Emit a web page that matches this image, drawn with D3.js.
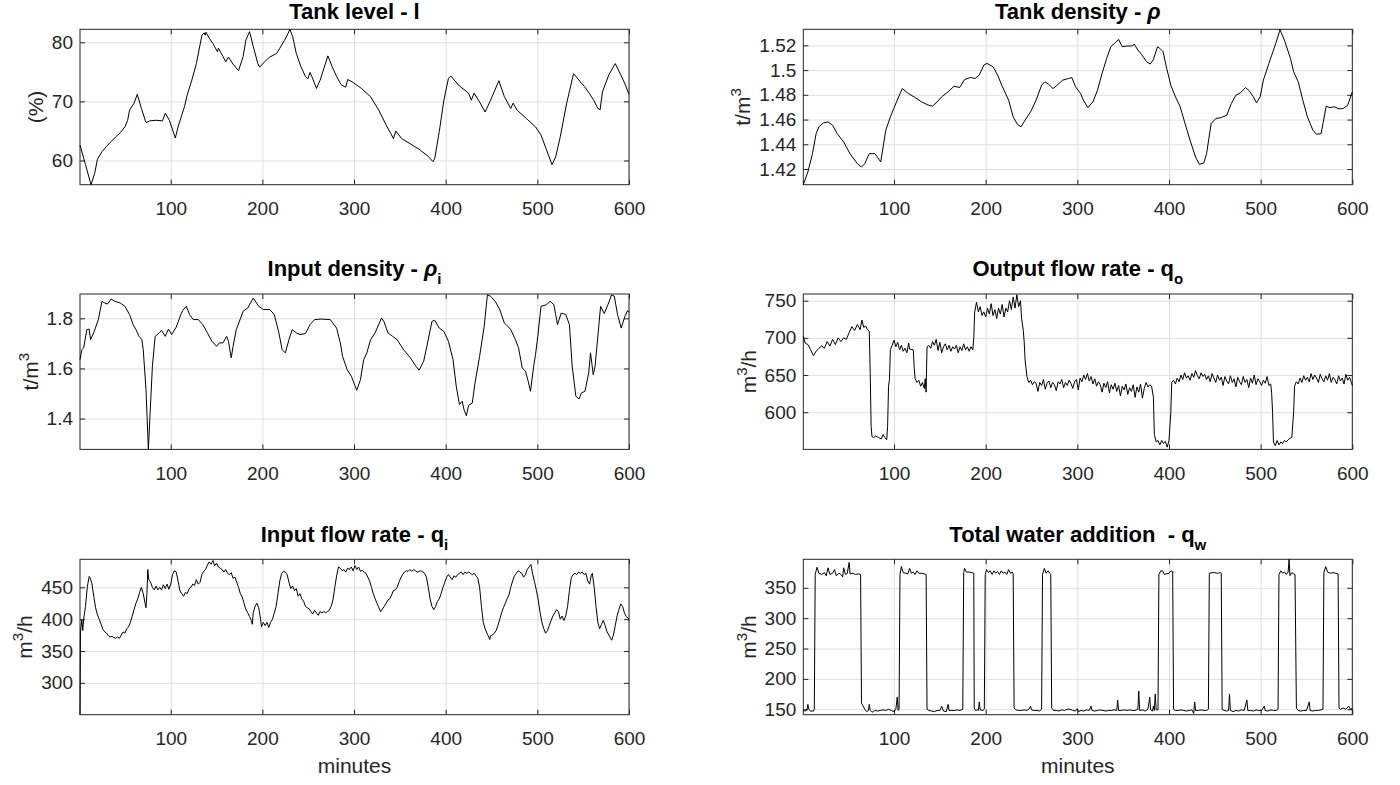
<!DOCTYPE html>
<html>
<head>
<meta charset="utf-8">
<script src="https://cdn.jsdelivr.net/npm/d3@7"></script>
<style>
  body { margin: 0; background: #fff; }
  text { font-family: "Liberation Sans", Arial, Helvetica, sans-serif; fill: #262626; }
</style>
</head>
<body>
<svg id="fig" width="1400" height="785"></svg>
<script>
// x axis ticks (minutes)
var minuteTicks = [100, 200, 300, 400, 500, 600];

// tank level l (%)
var tankLevel = [[1,62.6],[7,59.3],[13,55.9],[17,57.8],[20,60.2],[25,61.5],[30,62.4],[35,63.2],[40,64.0],[45,64.7],[50,65.7],[53,66.8],[55,68.5],[60,69.7],[63.5,71.2],[68,68.8],[73,66.4],[77,66.7],[84,66.8],[91,66.7],[94,68.0],[98.5,66.8],[105,63.8],[108,65.7],[115,69.1],[118,71.1],[123,73.6],[128,76.4],[134,81.2],[136.5,81.6],[137.5,81.2],[138.5,81.7],[142,80.7],[146,79.8],[151,78.4],[152,79.0],[157,77.6],[160,76.7],[163,77.5],[168,76.3],[174,75.2],[179,77.6],[182,80.4],[186,81.8],[190,79.3],[195,76.4],[197,75.8],[203,76.8],[208,77.5],[215.5,78.1],[219,79.0],[224,80.3],[228,81.5],[230,82.2],[233,81.0],[237,78.1],[242,75.9],[247,74.2],[249.5,73.8],[252,74.9],[254,74.2],[259,72.2],[263,73.6],[271.5,77.7],[276,75.9],[281,74.2],[286,72.8],[291,72.4],[293,73.7],[298,73.3],[308,72.2],[318,70.8],[327,68.5],[335,66.0],[340,64.6],[343,63.7],[345.5,65.0],[352,63.7],[361.5,62.8],[371,61.9],[381,60.7],[386,59.8],[388,60.3],[393,64.9],[398,70.2],[403,73.9],[405.5,74.3],[415,72.6],[425,71.4],[428,70.2],[431,71.4],[437,69.9],[443,68.2],[449,70.2],[458,73.5],[464,70.8],[471,68.8],[473.5,69.7],[478,68.5],[488,67.1],[498,65.7],[504,64.3],[510,61.8],[516,59.3],[520,60.6],[525,64.0],[532,69.7],[539.5,74.7],[547,73.3],[551.5,72.5],[556.5,71.4],[561.5,70.2],[566,68.8],[568.5,68.6],[571,71.6],[578,74.5],[585,76.4],[591,74.5],[596,72.8],[600,71.2]];

// tank density rho (t/m3)
var tankDensity = [[1,1.4073],[6,1.4176],[11,1.4324],[15,1.4486],[18,1.4541],[23,1.4573],[28,1.4581],[33,1.4554],[38,1.4486],[45,1.4419],[52,1.4324],[60,1.4243],[64.5,1.4216],[68,1.4243],[73,1.4324],[79,1.4324],[81.5,1.430],[85.5,1.4257],[91,1.4514],[96,1.4622],[103.5,1.4757],[109,1.4851],[115.5,1.4811],[123,1.4778],[130,1.4743],[137.5,1.4716],[142,1.4708],[147,1.4743],[152,1.4784],[159,1.4824],[165.5,1.487],[171.5,1.4859],[177,1.4924],[183.5,1.494],[188.5,1.4932],[193,1.496],[198,1.5041],[201.5,1.5054],[208,1.5027],[213,1.496],[217.5,1.4878],[225,1.4757],[230,1.4622],[234.5,1.4562],[238.5,1.4541],[243,1.4595],[249,1.4662],[255,1.4757],[261,1.4878],[264.5,1.4905],[268.5,1.4886],[273.5,1.4851],[278,1.4878],[284,1.4919],[290.5,1.4932],[294,1.494],[298,1.4865],[303.5,1.4811],[306.5,1.4757],[311.5,1.4697],[317,1.4743],[322,1.4838],[327,1.4973],[332,1.5095],[336.5,1.5189],[340.5,1.5216],[345,1.5249],[349,1.5189],[354,1.5195],[360,1.5195],[362,1.5211],[366,1.5162],[370.5,1.5122],[375.5,1.5068],[379.5,1.5049],[383,1.5086],[387.5,1.5189],[390,1.5176],[393.5,1.5149],[397.5,1.5014],[402,1.4878],[407,1.4784],[412,1.4708],[417,1.4581],[423,1.4432],[429,1.4297],[433,1.4238],[438,1.4249],[441,1.4324],[446,1.4568],[451,1.4608],[457,1.4616],[463,1.4635],[468,1.473],[473,1.4797],[478,1.4816],[483.5,1.4859],[487.5,1.4832],[492,1.4784],[495.5,1.4735],[499.5,1.4784],[503,1.4919],[509,1.5054],[516.5,1.5216],[520.5,1.5311],[521,1.533],[526.5,1.523],[532.5,1.5095],[536,1.4986],[541,1.4905],[546,1.4757],[551,1.4622],[557,1.4514],[561,1.4481],[566,1.4486],[568,1.4568],[571.5,1.4708],[575.5,1.4697],[580.5,1.4703],[585.5,1.4686],[590,1.4689],[595,1.4716],[600,1.4824]];

// input density rho_i (t/m3)
var inputDensity = [[1,1.635],[3,1.675],[5,1.682],[8.5,1.755],[11,1.757],[12.5,1.715],[16,1.742],[21,1.795],[25,1.868],[28,1.861],[31,1.857],[35,1.877],[39,1.868],[45,1.861],[50,1.848],[55,1.815],[59,1.775],[62,1.755],[65.5,1.728],[68.5,1.715],[70,1.675],[73,1.516],[75.6,1.277],[77.5,1.423],[80,1.609],[83,1.728],[87.5,1.742],[90,1.752],[94,1.728],[97.5,1.757],[101,1.735],[106,1.765],[111,1.815],[113,1.831],[117,1.848],[120.5,1.815],[124.5,1.795],[130,1.795],[135,1.775],[140,1.742],[145,1.708],[150,1.688],[153,1.702],[157,1.702],[161,1.728],[163,1.708],[166,1.642],[168,1.688],[171.5,1.755],[179,1.828],[184,1.841],[190,1.881],[196,1.848],[201,1.835],[208,1.835],[213,1.815],[218,1.742],[221.5,1.675],[225,1.662],[229,1.715],[232.5,1.755],[237,1.742],[241,1.735],[247,1.739],[252,1.775],[257,1.795],[264,1.797],[274,1.795],[281,1.761],[285,1.702],[287.5,1.648],[292.5,1.595],[297,1.569],[301,1.532],[303,1.513],[307,1.555],[310.5,1.635],[314,1.662],[318,1.715],[323,1.742],[330,1.801],[332.5,1.788],[337,1.742],[342,1.728],[347,1.715],[354,1.675],[361.5,1.642],[367.5,1.609],[371,1.593],[376,1.629],[381,1.715],[385,1.788],[388,1.792],[393,1.761],[398,1.748],[403,1.708],[408,1.635],[411.5,1.529],[415,1.456],[418,1.469],[420,1.436],[422.5,1.412],[425,1.452],[429,1.462],[432,1.542],[437,1.648],[442,1.768],[445.5,1.894],[449,1.888],[454,1.868],[459,1.835],[464,1.781],[466,1.775],[471,1.755],[476,1.715],[479.5,1.682],[483.5,1.602],[487,1.589],[490,1.549],[492.5,1.509],[496,1.609],[498,1.655],[500.5,1.728],[504,1.848],[510,1.854],[514,1.868],[518,1.854],[520,1.815],[522,1.775],[526,1.821],[531,1.815],[535,1.775],[538,1.609],[542,1.489],[545.5,1.478],[548,1.502],[552,1.509],[556,1.582],[558,1.662],[561,1.575],[563,1.609],[567,1.768],[569,1.848],[573,1.819],[577,1.854],[581,1.894],[584,1.888],[587.5,1.815],[591.5,1.761],[595.5,1.808],[598.5,1.831],[600,1.824]];

// output flow rate q_o (m3/h)
var outputFlow = [[1,702],[3,693],[6,691],[9,684],[12,676],[15,682],[18,686],[21,689],[24,686],[27,695],[30,689],[33,698],[36,691],[39,700],[42,695],[45,700],[48,698],[51,707],[54,715],[57,710],[60,718],[63,711],[65,724],[67,714],[69,716],[71,711],[73,709],[74,653],[75,581],[76,567],[78,566],[80,568],[83,566],[86,564],[88,570],[90,566],[92,563],[93,581],[94,635],[95,644],[96,684],[98,690],[100,697],[102,688],[104,694],[106,684],[108,690],[110,682],[112,686],[114,680],[116,693],[117,685],[121,684],[122,660],[123,645],[125,640],[127,643],[129,635],[131,640],[133,632],[134,645],[135,627],[136,688],[138,690],[140,686],[142,695],[144,690],[146,698],[148,683],[150,694],[152,680],[154,688],[156,692],[158,684],[160,690],[162,682],[164,688],[166,685],[168,690],[170,680],[172,688],[174,683],[176,692],[178,684],[180,688],[182,682],[184,688],[186,684],[187,700],[188,735],[190,748],[192,735],[194,742],[196,730],[198,735],[200,728],[202,740],[204,732],[206,746],[208,730],[210,738],[212,726],[214,740],[216,732],[218,745],[220,728],[222,740],[224,735],[226,750],[228,738],[230,755],[232,740],[234,758],[236,742],[238,750],[239,728],[241,710],[242,695],[243,670],[245,648],[247,640],[249,643],[251,637],[253,641],[255,639],[257,628],[259,640],[261,636],[263,644],[265,631],[267,639],[269,642],[271,633],[273,640],[275,637],[277,629],[279,641],[281,638],[283,644],[285,633],[287,640],[289,636],[291,643],[293,639],[295,632],[297,641],[299,644],[301,630],[303,646],[305,641],[307,650],[309,644],[311,652],[313,642],[315,648],[317,638],[319,645],[321,635],[323,641],[325,637],[327,627],[329,639],[331,633],[333,641],[335,626],[337,637],[339,631],[341,639],[343,628],[345,636],[347,622],[349,635],[351,630],[353,638],[355,624],[357,633],[359,628],[361,637],[363,620],[365,634],[367,627],[369,638],[371,619],[373,632],[375,640],[377,634],[379,637],[381,635],[383,620],[384,570],[386,560],[388,562],[390,556],[392,562],[394,558],[396,561],[398,553],[400,562],[402,600],[403,640],[405,643],[407,638],[409,646],[411,641],[413,650],[415,644],[417,653],[419,646],[421,649],[423,643],[425,652],[427,647],[429,656],[431,649],[433,645],[435,653],[437,648],[439,651],[441,644],[443,649],[445,641],[447,652],[449,646],[451,640],[453,650],[455,643],[457,647],[459,636],[461,648],[463,642],[465,638],[467,649],[469,640],[471,645],[473,634],[475,647],[477,641],[479,637],[481,648],[483,640],[485,644],[487,633],[489,646],[491,639],[493,650],[495,637],[497,645],[499,641],[501,636],[503,643],[505,639],[507,648],[509,636],[511,638],[512,626],[513,600],[514,560],[516,555],[518,562],[520,556],[522,560],[524,558],[526,562],[528,560],[530,563],[532,565],[534,566],[536,600],[537,635],[539,641],[541,638],[543,646],[545,640],[547,649],[549,643],[551,647],[553,641],[555,652],[557,644],[559,650],[561,646],[563,640],[565,651],[567,645],[569,641],[571,649],[573,643],[575,652],[577,640],[579,647],[581,644],[583,638],[585,649],[587,642],[589,646],[591,638],[593,651],[595,643],[597,647],[599,640],[600,636]];

// input flow rate q_i (m3/h)
var inputFlow = [[1,250],[1.5,380],[3,399],[4,382],[5,400],[7,420],[9,451],[11,467],[12,465],[14,456],[16,436],[18,418],[20,407],[22,400],[24,392],[26,384],[28,380],[30,378],[32,374],[34,372],[36,373],[38,371],[40,370],[42,372],[44,370],[46,375],[48,380],[50,378],[52,385],[54,388],[56,395],[58,405],[60,415],[62,425],[64,432],[66,442],[68,450],[70,440],[72,425],[73,418],[74,440],[75,478],[76,462],[78,458],[80,450],[82,446],[84,452],[86,446],[88,450],[90,446],[92,454],[94,448],[96,455],[98,447],[100,455],[102,470],[104,476],[106,474],[108,460],[110,445],[112,440],[114,436],[116,442],[118,440],[120,448],[122,450],[124,455],[126,453],[128,462],[130,455],[132,458],[134,470],[136,475],[138,478],[140,485],[142,490],[144,486],[146,492],[148,484],[150,488],[152,482],[154,480],[156,478],[158,474],[160,478],[162,472],[164,470],[166,473],[168,464],[170,466],[172,458],[174,450],[176,440],[178,435],[180,425],[182,415],[184,410],[186,404],[188,398],[189,392],[190,410],[192,420],[194,425],[196,418],[198,400],[199,388],[201,395],[203,390],[205,395],[207,387],[209,395],[211,400],[213,410],[215,420],[217,440],[219,460],[221,472],[223,475],[225,474],[227,470],[229,458],[231,448],[233,452],[235,445],[237,448],[239,436],[241,440],[243,432],[245,428],[247,420],[249,418],[251,416],[253,412],[255,408],[257,414],[259,410],[261,406],[263,412],[265,410],[267,412],[269,410],[271,412],[273,414],[275,420],[277,430],[279,450],[281,468],[283,482],[285,480],[287,476],[289,478],[291,474],[293,480],[295,478],[297,482],[299,476],[301,484],[303,478],[305,482],[307,475],[309,477],[311,474],[313,472],[315,466],[317,460],[319,450],[321,440],[323,432],[325,425],[327,418],[329,412],[331,416],[333,420],[335,425],[337,430],[339,432],[341,438],[343,445],[345,446],[347,450],[349,458],[351,465],[353,470],[355,474],[357,476],[359,475],[361,478],[363,475],[365,478],[367,476],[369,474],[371,475],[373,476],[375,474],[377,472],[379,466],[381,450],[383,432],[385,420],[387,415],[389,420],[391,428],[393,432],[395,440],[397,450],[399,458],[401,466],[403,470],[405,466],[407,462],[409,468],[411,466],[413,470],[415,472],[417,474],[419,470],[421,474],[423,472],[425,474],[427,472],[429,470],[431,472],[433,468],[435,465],[437,450],[439,420],[441,395],[443,385],[445,378],[447,372],[448,368],[449,374],[451,375],[453,378],[455,382],[457,390],[459,400],[461,410],[463,418],[465,425],[467,432],[469,438],[471,450],[473,460],[475,468],[477,472],[479,476],[481,474],[483,472],[485,466],[487,470],[489,478],[491,482],[493,486],[495,470],[497,458],[499,445],[501,430],[503,410],[505,395],[507,385],[509,378],[511,382],[513,390],[515,398],[517,405],[519,410],[521,415],[523,412],[525,400],[527,405],[529,398],[531,405],[533,420],[535,445],[537,465],[539,470],[541,472],[543,470],[545,474],[547,472],[549,474],[551,470],[553,472],[555,460],[557,455],[559,470],[560,472],[562,450],[564,420],[566,395],[568,385],[570,392],[572,398],[574,390],[576,380],[578,375],[580,370],[581,367],[583,375],[585,390],[587,405],[589,415],[591,424],[593,420],[595,410],[597,404],[599,402],[600,398]];

// total water addition q_w (m3/h)
var waterAddition = [[1,148],[3,147],[5,149],[6,158],[7,150],[9,147],[12,147],[13,150],[14,372],[16,384],[18,374],[21,372],[24,375],[26,370],[28,383],[30,372],[33,374],[35,380],[37,370],[40,374],[42,372],[44,368],[45,383],[47,372],[49,374],[51,392],[52,373],[55,374],[58,372],[61,373],[63.5,372],[64.5,160],[66,156],[68,150],[70,146],[72,148],[73,158],[74,148],[76,145],[79,148],[82,147],[85,148],[88,149],[91,148],[94,150],[97,148],[100,146],[102,150],[103.5,170],[104.5,148],[105.5,150],[106.5,372],[108,385],[110,375],[113,374],[115,373],[117,382],[119,374],[121,376],[123,372],[125,378],[127,374],[130,374],[133,373],[135,372],[136,150],[138,148],[141,147],[144,146],[147,148],[150,148],[152,155],[154,147],[157,146],[159,158],[160,148],[163,148],[166,148],[169,149],[172,148],[175,150],[176,375],[177,382],[179,376],[182,376],[185,375],[187,374],[187.5,152],[189,148],[191,149],[192,148],[193,162],[194,149],[197,148],[198.5,150],[199.5,372],[201,380],[203,375],[205,378],[207,372],[209,378],[211,374],[213,377],[215,372],[217,378],[219,374],[221,376],[223,372],[225,380],[227,374],[229,376],[230,373],[231,152],[233,149],[236,148],[239,148],[242,149],[245,148],[247,150],[249,155],[250,149],[253,148],[256,148],[259,147],[261,150],[262,372],[264,382],[266,374],[268,378],[270,374],[271,372],[272,152],[274,148],[277,148],[280,147],[283,149],[286,148],[289,150],[292,150],[295,148],[298,147],[300,151],[301,146],[304,148],[307,147],[310,149],[313,148],[315,155],[316,148],[319,147],[322,148],[325,149],[328,148],[331,147],[334,148],[337,148],[340,149],[343,148],[344,165],[345,148],[348,148],[351,149],[354,148],[357,149],[360,148],[363,148],[366,150],[367,180],[368,148],[371,149],[374,147],[377,150],[379,170],[380,149],[382,147],[383,155],[384,148],[385,175],[386,149],[388,149],[389,372],[391,378],[393,378],[395,372],[397,373],[400,374],[402,378],[404,377],[405,150],[407,148],[410,148],[413,149],[416,148],[419,147],[422,148],[425,149],[427,143],[428,162],[429,148],[432,148],[435,149],[438,148],[441,148],[443,150],[444,374],[447,375],[450,375],[453,374],[456,375],[457,374],[458,150],[460,148],[463,147],[465,148],[466,175],[467,148],[470,146],[473,148],[476,147],[479,149],[482,148],[485,165],[486,148],[489,148],[492,147],[495,149],[498,148],[501,148],[504,155],[505,148],[508,147],[511,149],[514,148],[517,148],[519,150],[520,372],[522,378],[524,374],[526,376],[528,372],[530,376],[531,397],[532,370],[534,375],[536,373],[537.5,372],[539,152],[541,148],[544,147],[547,148],[550,148],[553,162],[554,148],[557,147],[560,148],[563,148],[566,149],[568,150],[569,375],[571,385],[573,376],[576,374],[579,375],[582,374],[584.5,373],[585.5,152],[587,150],[590,152],[593,150],[596,155],[598,150],[600,151]];

// y tick values
var levelTicks = [60, 70, 80];
var tankDensityTicks = [1.42, 1.44, 1.46, 1.48, 1.5, 1.52];
var inputDensityTicks = [1.4, 1.6, 1.8];
var outputFlowTicks = [600, 650, 700, 750];
var inputFlowTicks = [300, 350, 400, 450];
var waterTicks = [150, 200, 250, 300, 350];

// title pieces: [text, kind]  kind: "" | "it" | "sub"
var panels = [
  { data: tankLevel, yDomain: [55.9, 82.2], yTicks: levelTicks,
    title: [["Tank level - l", ""]], ylabel: [["(%)", ""]] },
  { data: tankDensity, yDomain: [1.4073, 1.533], yTicks: tankDensityTicks,
    title: [["Tank density - ", ""], ["\u03C1", "it"]], ylabel: [["t/m", ""], ["3", "sup"]] },
  { data: inputDensity, yDomain: [1.277, 1.897], yTicks: inputDensityTicks,
    title: [["Input density - ", ""], ["\u03C1", "it"], ["i", "sub"]], ylabel: [["t/m", ""], ["3", "sup"]] },
  { data: outputFlow, yDomain: [550, 759], yTicks: outputFlowTicks,
    title: [["Output flow rate - q", ""], ["o", "sub"]], ylabel: [["m", ""], ["3", "sup"], ["/h", "back"]] },
  { data: inputFlow, yDomain: [250, 494], yTicks: inputFlowTicks,
    title: [["Input flow rate - q", ""], ["i", "sub"]], ylabel: [["m", ""], ["3", "sup"], ["/h", "back"]] },
  { data: waterAddition, yDomain: [141, 397], yTicks: waterTicks,
    title: [["Total water addition  - q", ""], ["w", "sub"]], ylabel: [["m", ""], ["3", "sup"], ["/h", "back"]] }
];

// layout
var colX = [80, 803.3],
    rowY = [29.3, 294, 559.3],
    pw = 549,
    ph = 155.4;

var svg = d3.select("#fig");
var fmt = function(d) { return String(+d.toFixed(2)); };

panels.forEach(function(p, i) {
  var col = i % 2, row = Math.floor(i / 2);
  var g = svg.append("g")
    .attr("transform", "translate(" + colX[col] + "," + rowY[row] + ")");

  var x = d3.scaleLinear().domain([1, 600]).range([0, pw]);
  var y = d3.scaleLinear().domain(p.yDomain).range([ph, 0]);

  // grid
  var gx = g.append("g")
    .call(d3.axisBottom(x).tickValues(minuteTicks).tickSize(ph).tickFormat(""));
  var gy = g.append("g")
    .call(d3.axisLeft(y).tickValues(p.yTicks).tickSize(-pw).tickFormat(""));
  [gx, gy].forEach(function(s) {
    s.select(".domain").remove();
    s.selectAll("line").attr("stroke", "#dfdfdf").attr("stroke-width", 1);
  });

  // axes, ticks pointing inward
  var ax = g.append("g").attr("transform", "translate(0," + ph + ")")
    .call(d3.axisBottom(x).tickValues(minuteTicks).tickSize(-5).tickPadding(17).tickFormat(fmt));
  var ay = g.append("g")
    .call(d3.axisLeft(y).tickValues(p.yTicks).tickSize(-5).tickPadding(7).tickFormat(fmt));
  var at = g.append("g")
    .call(d3.axisTop(x).tickValues(minuteTicks).tickSize(-5).tickFormat(""));
  var ar = g.append("g").attr("transform", "translate(" + pw + ",0)")
    .call(d3.axisRight(y).tickValues(p.yTicks).tickSize(-5).tickFormat(""));
  [ax, ay, at, ar].forEach(function(s) {
    s.attr("color", "#262626").attr("font-family", null).attr("font-size", null);
    s.select(".domain").remove();
    s.selectAll("text").style("font-size", "19px");
  });

  // box
  g.append("rect")
    .attr("width", pw).attr("height", ph)
    .attr("fill", "none").attr("stroke", "#262626").attr("stroke-width", 1);

  // data line (drawn over the box, as in the original)
  g.append("clipPath").attr("id", "clip" + i)
    .append("rect").attr("x", -1).attr("y", -1).attr("width", pw + 2).attr("height", ph + 2);
  g.append("path")
    .datum(p.data)
    .attr("clip-path", "url(#clip" + i + ")")
    .attr("fill", "none")
    .attr("stroke", "#000")
    .attr("stroke-width", 1)
    .attr("stroke-linejoin", "round")
    .attr("d", d3.line().x(function(d) { return x(d[0]); }).y(function(d) { return y(d[1]); }));

  // title
  var hasSub = p.title.some(function(t) { return t[1] === "sub"; });
  var title = g.append("text")
    .attr("x", pw / 2)
    .attr("y", hasSub ? -17.6 : -10)
    .attr("text-anchor", "middle")
    .style("font-size", "22px")
    .style("font-weight", "bold")
    .style("white-space", "pre")
    .style("fill", "#000");
  p.title.forEach(function(t) {
    var s = title.append("tspan").text(t[0]);
    if (t[1] === "it") s.style("font-style", "italic");
    if (t[1] === "sub") s.attr("dy", 8).style("font-size", "15px");
  });

  // y label, left of tick labels
  var lx = ay.node().getBBox().x - 9;
  var yl = g.append("text")
    .attr("transform", "translate(" + lx + "," + (ph / 2) + ") rotate(-90)")
    .attr("text-anchor", "middle")
    .style("font-size", "21px");
  p.ylabel.forEach(function(t) {
    var s = yl.append("tspan").text(t[0]);
    if (t[1] === "sup") s.attr("dy", -9).style("font-size", "15px");
    if (t[1] === "back") s.attr("dy", 9);
  });

  // x label on the bottom row
  if (row === 2) {
    g.append("text")
      .attr("x", pw / 2)
      .attr("y", ph + 58.5)
      .attr("text-anchor", "middle")
      .style("font-size", "21px")
      .text("minutes");
  }
});
</script>
</body>
</html>
